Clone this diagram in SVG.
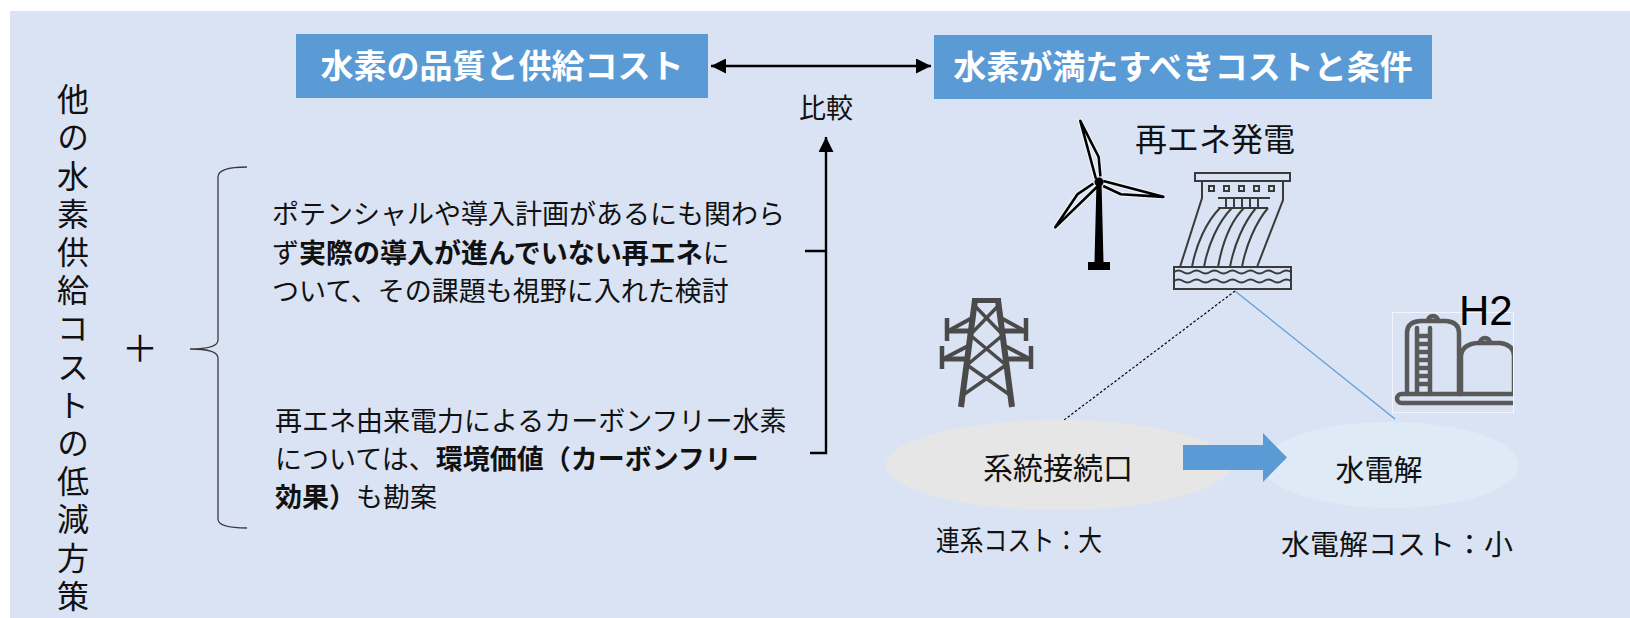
<svg xmlns="http://www.w3.org/2000/svg" width="1630" height="618" viewBox="0 0 1630 618">
  <defs>
    <style>
      .t { font-family: "Noto Sans CJK JP", "Noto Sans", sans-serif; fill: #111; }
      .b { font-weight: 700; }
      .title { font-size: 33px; font-weight: 700; fill: #fff; text-anchor: middle; }
      .body { font-size: 27px; }
      .vert { writing-mode: vertical-rl; font-size: 32px; letter-spacing: 6.2px; }
      .conn { fill: none; stroke: #000; stroke-width: 2.4; }
      .icon { fill: none; stroke: #3a3a3a; stroke-width: 2; }
      .tank { fill: none; stroke: #595959; stroke-width: 4.5; stroke-linecap: round; stroke-linejoin: round; }
      .pyl { fill: none; stroke: #4a4a4a; stroke-linecap: butt; }
    </style>
    <marker id="head" viewBox="0 0 15 15" markerUnits="userSpaceOnUse" markerWidth="15" markerHeight="15" refX="15" refY="7.5" orient="auto-start-reverse">
      <path d="M0,0 L15,7.5 L0,15 Z" fill="#000"/>
    </marker>
    <clipPath id="tankClip">
      <rect x="1392" y="300" width="121" height="116"/>
    </clipPath>
  </defs>

  <!-- panel background -->
  <rect x="10" y="11" width="1620" height="607" fill="#DAE3F3"/>

  <!-- headline boxes -->
  <g id="box-supply">
    <rect x="296" y="34" width="412" height="64" fill="#5B9BD5"/>
    <text class="t title" x="502" y="78">水素の品質と供給コスト</text>
  </g>
  <g id="box-target">
    <rect x="934" y="35" width="498" height="64" fill="#5B9BD5"/>
    <text class="t title" x="1183" y="79">水素が満たすべきコストと条件</text>
  </g>

  <!-- vertical caption -->
  <g id="side-caption">
    <text class="t vert" x="73" y="83">他の水素供給コストの低減方策</text>
  </g>

  <g id="plus">
    <text class="t" x="140" y="362" font-size="36" text-anchor="middle">＋</text>
  </g>

  <!-- measure texts -->
  <g id="measure-renewables">
    <text class="t body" x="272" y="224">ポテンシャルや導入計画があるにも関わら</text>
    <text class="t body" x="272" y="263">ず<tspan class="b">実際の導入が進んでいない再エネ</tspan>に</text>
    <text class="t body" x="272" y="301">ついて、その課題も視野に入れた検討</text>
  </g>
  <g id="measure-carbonfree">
    <text class="t body" x="275" y="431">再エネ由来電力によるカーボンフリー水素</text>
    <text class="t body" x="275" y="469">については、<tspan class="b">環境価値（カーボンフリー</tspan></text>
    <text class="t body" x="275" y="507"><tspan class="b">効果）</tspan>も勘案</text>
  </g>

  <g id="label-compare">
    <text class="t" x="826" y="118" font-size="27" text-anchor="middle">比較</text>
  </g>

  <!-- renewable generation icons -->
  <g id="renewables">
    <text class="t" x="1135" y="151" font-size="32">再エネ発電</text>
    <g id="wind-turbine" transform="translate(1099,182)">
      <g stroke="#fff" stroke-opacity="0.55" stroke-width="5" fill="none" stroke-linejoin="round">
        <path d="M-2,-4 L0,-64 L7,-24 L3,-5" transform="rotate(-17)"/>
        <path d="M-2,-4 L0,-66 L7,-24 L3,-5" transform="rotate(103)"/>
        <path d="M-2,-4 L0,-63 L7,-24 L3,-5" transform="rotate(224)"/>
      </g>
      <g stroke="#000" stroke-width="2.6" fill="none" stroke-linejoin="round">
        <path d="M-2,-4 L0,-64 L7,-24 L3,-5" transform="rotate(-17)"/>
        <path d="M-2,-4 L0,-66 L7,-24 L3,-5" transform="rotate(103)"/>
        <path d="M-2,-4 L0,-63 L7,-24 L3,-5" transform="rotate(224)"/>
      </g>
      <polygon points="-2.5,0 2.5,0 4.5,80 -4.5,80" fill="#000"/>
      <rect x="-11" y="80" width="22" height="8" fill="#000"/>
      <circle cx="0" cy="0" r="4.5" fill="#000"/>
    </g>
    <g id="hydro-dam" class="icon">
      <rect x="1195" y="173" width="95" height="8"/>
      <path d="M1202,181 V198 L1180,267 M1283,181 V200 L1257,267"/>
      <rect x="1209" y="186" width="5" height="5"/>
      <rect x="1224" y="186" width="5" height="5"/>
      <rect x="1239" y="186" width="5" height="5"/>
      <rect x="1254" y="186" width="5" height="5"/>
      <rect x="1269" y="186" width="5" height="5"/>
      <path d="M1218,198 H1270 M1218,208 H1268 M1226,198 V208 M1234,198 V208 M1242,198 V208 M1250,198 V208 M1258,198 V208"/>
      <path d="M1220,208 C1206,222 1196,245 1192,267 M1232,208 C1218,222 1208,245 1204,267 M1244,208 C1230,222 1222,245 1218,267 M1256,208 C1244,222 1234,245 1230,267 M1268,208 C1256,222 1246,245 1242,267"/>
      <rect x="1174" y="267" width="117" height="22"/>
      <path d="M1174,272 q4.5,-3 9,0 t9,0 t9,0 t9,0 t9,0 t9,0 t9,0 t9,0 t9,0 t9,0 t9,0 t9,0 t9,0"/>
      <path d="M1174,281 q4.5,-3 9,0 t9,0 t9,0 t9,0 t9,0 t9,0 t9,0 t9,0 t9,0 t9,0 t9,0 t9,0 t9,0"/>
    </g>
  </g>

  <!-- transmission pylon -->
  <g id="pylon" class="pyl">
    <rect x="972" y="298" width="29" height="5" fill="#4a4a4a" stroke="none"/>
    <path d="M975,300 L961,407 M998,300 L1012,407" stroke-width="6"/>
    <path d="M974,305 L1003,335 M999,305 L970,335 M970,335 L1006,365 M1003,335 L967,365 M967,365 L1010,395 M1006,365 L963,395" stroke-width="3.5"/>
    <path d="M972,318 L950,330 M1001,318 L1023,330 M968,346 L945,358 M1005,346 L1028,358" stroke-width="4"/>
    <path d="M973,331 H945 M1000,331 H1028 M969,359 H940 M1004,359 H1033" stroke-width="5"/>
    <path d="M947,318 V341 M1026,318 V341 M942,346 V369 M1031,346 V369" stroke-width="4.5"/>
  </g>

  <!-- hydrogen storage tanks -->
  <g id="h2-tank">
    <rect x="1392.5" y="312.5" width="121" height="100" fill="none" stroke="#f4f6fb" stroke-width="1"/>
    <g class="tank" clip-path="url(#tankClip)">
      <rect x="1397" y="394" width="124" height="9" rx="4.5"/>
      <path d="M1407,394 V333 Q1407,322 1420,321 L1446,321 Q1459,322 1459,333 V394"/>
      <path d="M1428,321 A5,5 0 0 1 1438,321"/>
      <path d="M1417,328 V394 M1430,328 V394 M1417,336 H1430 M1417,344 H1430 M1417,352 H1430 M1417,360 H1430 M1417,368 H1430 M1417,376 H1430 M1417,384 H1430"/>
      <path d="M1461,394 V356 Q1462,344 1478,343 L1500,343 Q1514,345 1514,356 V394"/>
      <path d="M1480,343 A5,5 0 0 1 1490,343"/>
    </g>
    <text x="1459" y="325" font-family="Liberation Sans, Arial, sans-serif" font-size="42" fill="#000">H2</text>
  </g>

  <!-- process nodes -->
  <g id="node-grid">
    <ellipse cx="1058" cy="465" rx="172" ry="45" fill="#E7E6E6"/>
    <text class="t" x="1058" y="479" font-size="30" text-anchor="middle">系統接続口</text>
  </g>
  <g id="node-electrolysis">
    <ellipse cx="1391" cy="465" rx="128" ry="43" fill="#DEEBF7"/>
    <text class="t" x="1379" y="481" font-size="29" text-anchor="middle">水電解</text>
  </g>

  <g id="cost-labels">
    <text class="t" x="936" y="551" font-size="28" textLength="166" lengthAdjust="spacingAndGlyphs">連系コスト：大</text>
    <text class="t" x="1281" y="555" font-size="28" textLength="232" lengthAdjust="spacingAndGlyphs">水電解コスト：小</text>
  </g>

  <!-- connectors -->
  <g id="connectors">
    <line class="conn" x1="711" y1="66" x2="931" y2="66" marker-start="url(#head)" marker-end="url(#head)"/>
    <path class="conn" d="M805,251 H826 M810,453 H826 V137" marker-end="url(#head)"/>
    <path d="M247,167 Q218,167 218,177 L218,340 Q218,349 190,349 Q218,349 218,358 L218,519 Q218,528 247,528" fill="none" stroke="#3a3a3a" stroke-width="1.3"/>
    <line x1="1235" y1="291" x2="1064" y2="420" stroke="#000" stroke-width="1.2" stroke-dasharray="2.5,2"/>
    <line x1="1235" y1="291" x2="1395" y2="419" stroke="#5B9BD5" stroke-width="1.2"/>
    <polygon points="1183,445 1263,445 1263,433 1287,457.5 1263,482 1263,470 1183,470" fill="#5B9BD5"/>
  </g>
</svg>
